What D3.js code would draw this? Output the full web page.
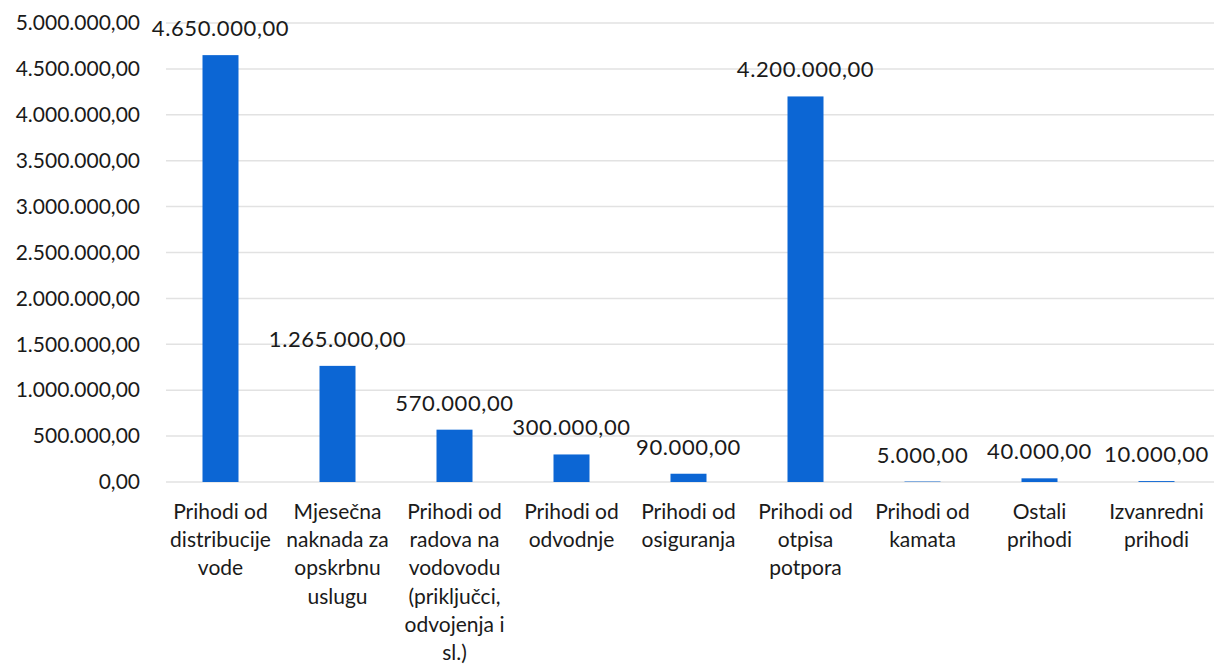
<!DOCTYPE html>
<html><head><meta charset="utf-8">
<script src="https://cdn.jsdelivr.net/npm/d3@7"></script>
<style>body{margin:0;background:#fff}svg{display:block}text{font-family:Lato,"Open Sans",sans-serif;fill:#1a1a1a}</style>
</head><body>
<script>
const categories = [
  ["Prihodi od","distribucije","vode"],
  ["Mjesečna","naknada za","opskrbnu","uslugu"],
  ["Prihodi od","radova na","vodovodu","(priključci,","odvojenja i","sl.)"],
  ["Prihodi od","odvodnje"],
  ["Prihodi od","osiguranja"],
  ["Prihodi od","otpisa","potpora"],
  ["Prihodi od","kamata"],
  ["Ostali","prihodi"],
  ["Izvanredni","prihodi"]
];
const values = [4650000,1265000,570000,300000,90000,4200000,5000,40000,10000];
const yTicks = [0,500000,1000000,1500000,2000000,2500000,3000000,3500000,4000000,4500000,5000000];

const W=1214,H=670;
const svg=d3.select("body").append("svg").attr("width",W).attr("height",H);
const x=d3.scaleBand().domain(d3.range(categories.length)).range([162,1215]).paddingInner(0.69).paddingOuter(0.345);
const y=d3.scaleLinear().domain([0,5000000]).range([482,23]);
const fmt=v=>{const s=d3.format(",.2f")(v);return s.replace(/,/g,"#").replace(".",",").replace(/#/g,".");};

svg.append("g").selectAll("line").data(yTicks).join("line")
  .attr("x1",166).attr("x2",1214).attr("y1",d=>y(d)).attr("y2",d=>y(d))
  .attr("stroke","#e2e2e2").attr("stroke-width",1.5);

const yAxis=d3.axisLeft(y).tickValues(yTicks).tickFormat(fmt).tickSize(0).tickPadding(0);
const ga=svg.append("g").attr("transform","translate(140,0)").call(yAxis);
ga.select(".domain").remove();
ga.selectAll("text").style("font-size","21px").style("font-family","Lato, sans-serif").attr("fill","#1a1a1a");

const bw=36;
svg.append("g").selectAll("rect").data(values).join("rect")
  .attr("x",(d,i)=>x(i)+x.bandwidth()/2-bw/2).attr("width",bw)
  .attr("y",d=>y(d)).attr("height",d=>y(0)-y(d)).attr("fill","#0c66d4");

svg.append("g").selectAll("text").data(values).join("text")
  .attr("x",(d,i)=>x(i)+x.bandwidth()/2).attr("y",d=>y(d)-19)
  .attr("text-anchor","middle").style("font-size","22px").style("letter-spacing","0.6px").text(fmt);

const gl=svg.append("g");
categories.forEach((lines,i)=>{
  const t=gl.append("text").attr("text-anchor","middle").style("font-size","21px");
  lines.forEach((ln,j)=>t.append("tspan").attr("x",x(i)+x.bandwidth()/2).attr("y",519+j*28.2).text(ln));
});
</script>
</body></html>
